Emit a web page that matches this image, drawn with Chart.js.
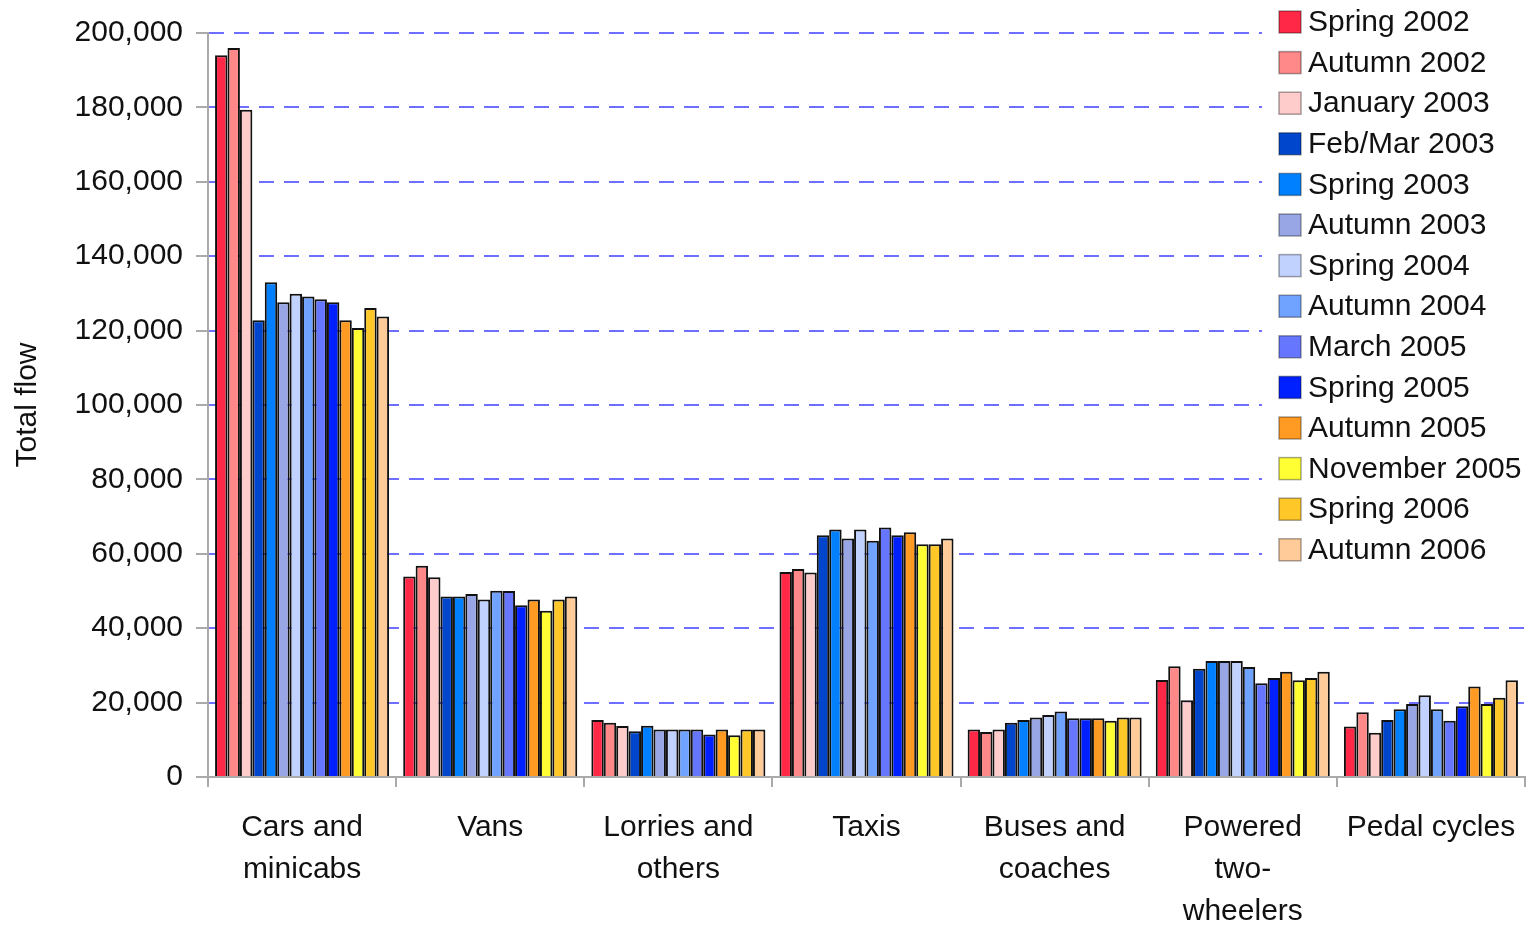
<!DOCTYPE html>
<html>
<head>
<meta charset="utf-8">
<script src="https://cdn.jsdelivr.net/npm/chart.js@4/dist/chart.umd.min.js"></script>
<style>
  html, body { margin: 0; padding: 0; background: #fff; overflow: hidden; }
  #wrap { width: 1539px; height: 925px; position: relative; }
</style>
</head>
<body>
<div id="wrap"><canvas id="flow-chart"></canvas></div>
<script>
const categories = [
  ["Cars and", "minicabs"],
  "Vans",
  ["Lorries and", "others"],
  "Taxis",
  ["Buses and", "coaches"],
  ["Powered", "two-", "wheelers"],
  "Pedal cycles",
];
const seasons = [
  "Spring 2002", "Autumn 2002", "January 2003", "Feb/Mar 2003", "Spring 2003",
  "Autumn 2003", "Spring 2004", "Autumn 2004", "March 2005", "Spring 2005",
  "Autumn 2005", "November 2005", "Spring 2006", "Autumn 2006",
];
const seasonColors = [
  "#FF2846", "#FF8888", "#FFCCCC", "#0046CC", "#0080FF",
  "#99A6E6", "#C2D2FF", "#70A2FF", "#6676FF", "#0020FF",
  "#FF9A22", "#FFFF33", "#FFC828", "#FFCC99",
];

// cars, vans, lorries, taxis, buses, powered two-wheelers, pedal cycles
const spring2002 = [194000, 53900, 15300, 55100, 12800, 26100, 13600];
const autumn2002 = [196000, 56800, 14600, 55900, 12100, 29800, 17400];
const january2003 = [179400, 53700, 13700, 55000, 12800, 20600, 11900];
const febMar2003 = [122800, 48500, 12300, 65000, 14600, 29100, 15300];
const spring2003 = [133000, 48500, 13800, 66500, 15300, 31200, 18200];
const autumn2003 = [127600, 49200, 12800, 64100, 16000, 31200, 19600];
const spring2004 = [129900, 47700, 12800, 66500, 16700, 31200, 22000];
const autumn2004 = [129200, 50100, 12800, 63500, 17600, 29600, 18200];
const march2005 = [128400, 50000, 12800, 67100, 15800, 25200, 15100];
const spring2005 = [127600, 46200, 11400, 65000, 15800, 26600, 19000];
const autumn2005 = [122800, 47700, 12800, 65800, 15800, 28300, 24300];
const november2005 = [120700, 44700, 11200, 62600, 15100, 26000, 19600];
const spring2006 = [126100, 47700, 12800, 62600, 16000, 26600, 21300];
const autumn2006 = [123800, 48500, 12800, 64100, 16000, 28300, 26000];

const seriesValues = [
  spring2002, autumn2002, january2003, febMar2003, spring2003,
  autumn2003, spring2004, autumn2004, march2005, spring2005,
  autumn2005, november2005, spring2006, autumn2006,
];
const yTicks = [0, 20000, 40000, 60000, 80000, 100000, 120000, 140000, 160000, 180000, 200000];

const fontFamily = "'Liberation Sans', Arial, sans-serif";

// legend drawn over the top right of the plot, like the original
const sideLegend = {
  id: "sideLegend",
  afterDraw(chart) {
    const ctx = chart.ctx;
    ctx.save();
    ctx.fillStyle = "#fff";
    ctx.fillRect(1262, 0, 277, 572);
    ctx.font = "30px " + fontFamily;
    ctx.textBaseline = "middle";
    chart.data.datasets.forEach((ds, i) => {
      const y = 22 + i * 40.6;
      ctx.fillStyle = ds.backgroundColor;
      ctx.fillRect(1279, y - 11, 22, 22);
      ctx.strokeStyle = "rgba(0,0,0,0.35)";
      ctx.lineWidth = 1.5;
      ctx.strokeRect(1279, y - 11, 22, 22);
      ctx.fillStyle = "#111";
      ctx.fillText(ds.label, 1308, y + 1);
    });
    ctx.restore();
  },
};

const data = {
  labels: categories,
  datasets: seasons.map((name, i) => ({
    label: name,
    data: seriesValues[i],
    backgroundColor: seasonColors[i],
    borderColor: "#111",
    borderWidth: 2,
    categoryPercentage: 0.925,
    barPercentage: 1.0,
  })),
};

const config = {
  type: "bar",
  data: data,
  options: {
    responsive: true,
    maintainAspectRatio: false,
    animation: false,
    layout: { padding: { top: 33, right: 14, left: 0, bottom: 0 } },
    plugins: {
      legend: { display: false },
      tooltip: { enabled: false },
    },
    scales: {
      x: {
        grid: {
          drawOnChartArea: false,
          color: "#aaa",
          lineWidth: 2,
          tickLength: 10,
        },
        border: { color: "#aaa", width: 2 },
        ticks: {
          color: "#111",
          font: { family: fontFamily, size: 30, lineHeight: 1.4 },
          padding: 20,
          maxRotation: 0,
          autoSkip: false,
        },
        afterFit(scale) {
          scale.height = 148;
        },
      },
      y: {
        min: 0,
        max: 200000,
        afterBuildTicks(scale) {
          scale.ticks = yTicks.map((v) => ({ value: v }));
        },
        grid: {
          color: "#6f6fff",
          lineWidth: 2,
          tickColor: "#aaa",
          tickBorderDash: [],
          tickLength: 12,
        },
        border: { color: "#aaa", width: 2, dash: [15, 10] },
        ticks: {
          color: "#111",
          font: { family: fontFamily, size: 30 },
          padding: 13,
          callback: (v) => v.toLocaleString("en-US"),
        },
        title: {
          display: true,
          text: "Total flow",
          color: "#111",
          font: { family: fontFamily, size: 30 },
          padding: { top: 10, bottom: 0 },
        },
        afterFit(scale) {
          scale.width = 208;
        },
      },
    },
  },
  plugins: [sideLegend],
};

new Chart(document.getElementById("flow-chart"), config);
</script>
</body>
</html>
